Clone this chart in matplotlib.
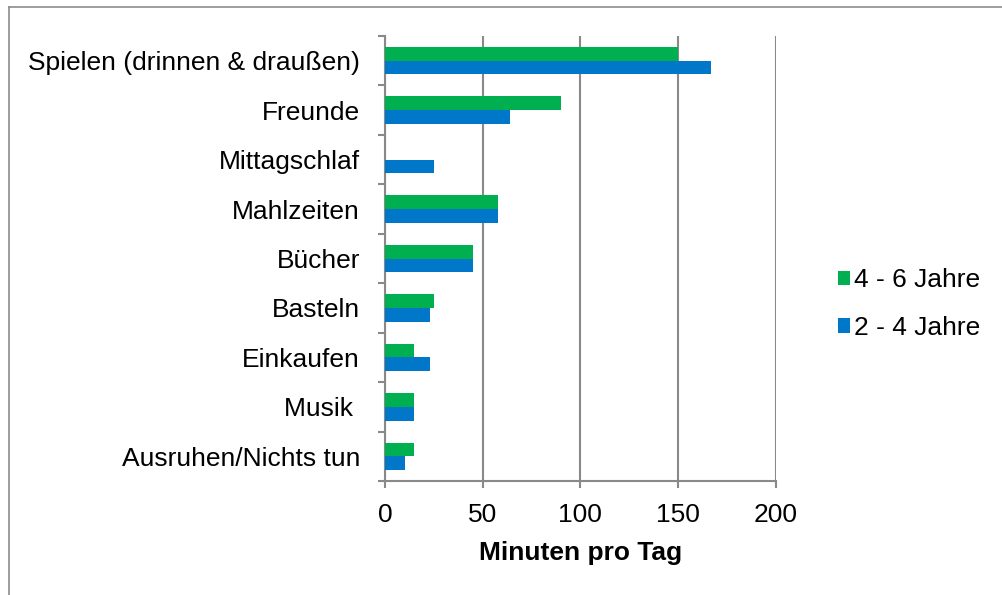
import matplotlib
matplotlib.use("Agg")
import matplotlib.pyplot as plt
from matplotlib.lines import Line2D
import numpy as np

categories = ["Spielen (drinnen & draußen)", "Freunde", "Mittagschlaf", "Mahlzeiten",
              "Bücher", "Basteln", "Einkaufen", "Musik ", "Ausruhen/Nichts tun"]
series_names = ["4 - 6 Jahre", "2 - 4 Jahre"]
vals_4_6 = [150, 90, 0, 58, 45, 25, 15, 15, 15]
vals_2_4 = [167, 64, 25, 58, 45, 23, 23, 15, 10]
x_ticks = [0, 50, 100, 150, 200]
x_label = "Minuten pro Tag"

green = "#00B050"
blue = "#0077C8"
grid_c = "#898989"

plt.rcParams['font.family'] = ['Liberation Sans', 'DejaVu Sans']
fs = 19

fig = plt.figure(figsize=(10.02, 5.95), dpi=100)
ax = fig.add_axes([385/1002, 1-481/595, (775.7-385)/1002, (481-36)/595])

y = np.arange(len(categories))
h = 0.277
ax.barh(y - h/2, vals_4_6, height=h, color=green, linewidth=0,
        label=series_names[0], zorder=3)
ax.barh(y + h/2, vals_2_4, height=h, color=blue, linewidth=0,
        label=series_names[1], zorder=3)

ax.set_xlim(0, 200)
ax.set_ylim(len(categories) - 0.5, -0.5)
ax.set_xticks(x_ticks)
ax.set_xticklabels([str(v) for v in x_ticks], fontsize=fs)
ax.set_yticks(y)
ax.set_yticklabels(categories, fontsize=fs)
ax.set_yticks(np.arange(-0.5, len(categories), 1.0), minor=True)
ax.tick_params(axis='y', which='major', length=0, pad=18)
ax.tick_params(axis='y', which='minor', length=5, width=1.5, color=grid_c, direction='out')
ax.tick_params(axis='x', which='major', length=5, width=1.5, color=grid_c, direction='out', pad=11)

ax.grid(axis='x', color=grid_c, linewidth=1.5, zorder=0)
ax.set_axisbelow(True)
for s in ['top', 'right']:
    ax.spines[s].set_visible(False)
for s in ['left', 'bottom']:
    ax.spines[s].set_color(grid_c)
    ax.spines[s].set_linewidth(1.5)

ax.set_xlabel(x_label, fontsize=fs, fontweight='bold', labelpad=10)

fig.legend(loc='center left', bbox_to_anchor=(838/1002, 1-304/595), frameon=False,
           fontsize=fs, handlelength=0.45, handleheight=0.45, handletextpad=0.15,
           labelspacing=0.9, borderpad=0, borderaxespad=0)

bx = 9/1002
by = 1 - 7/595
fig.add_artist(Line2D([bx, bx], [0, by], transform=fig.transFigure, color="#8c8c8c", linewidth=1.2))
fig.add_artist(Line2D([bx, 1], [by, by], transform=fig.transFigure, color="#8c8c8c", linewidth=1.2))

fig.savefig("out.png", dpi=100)
